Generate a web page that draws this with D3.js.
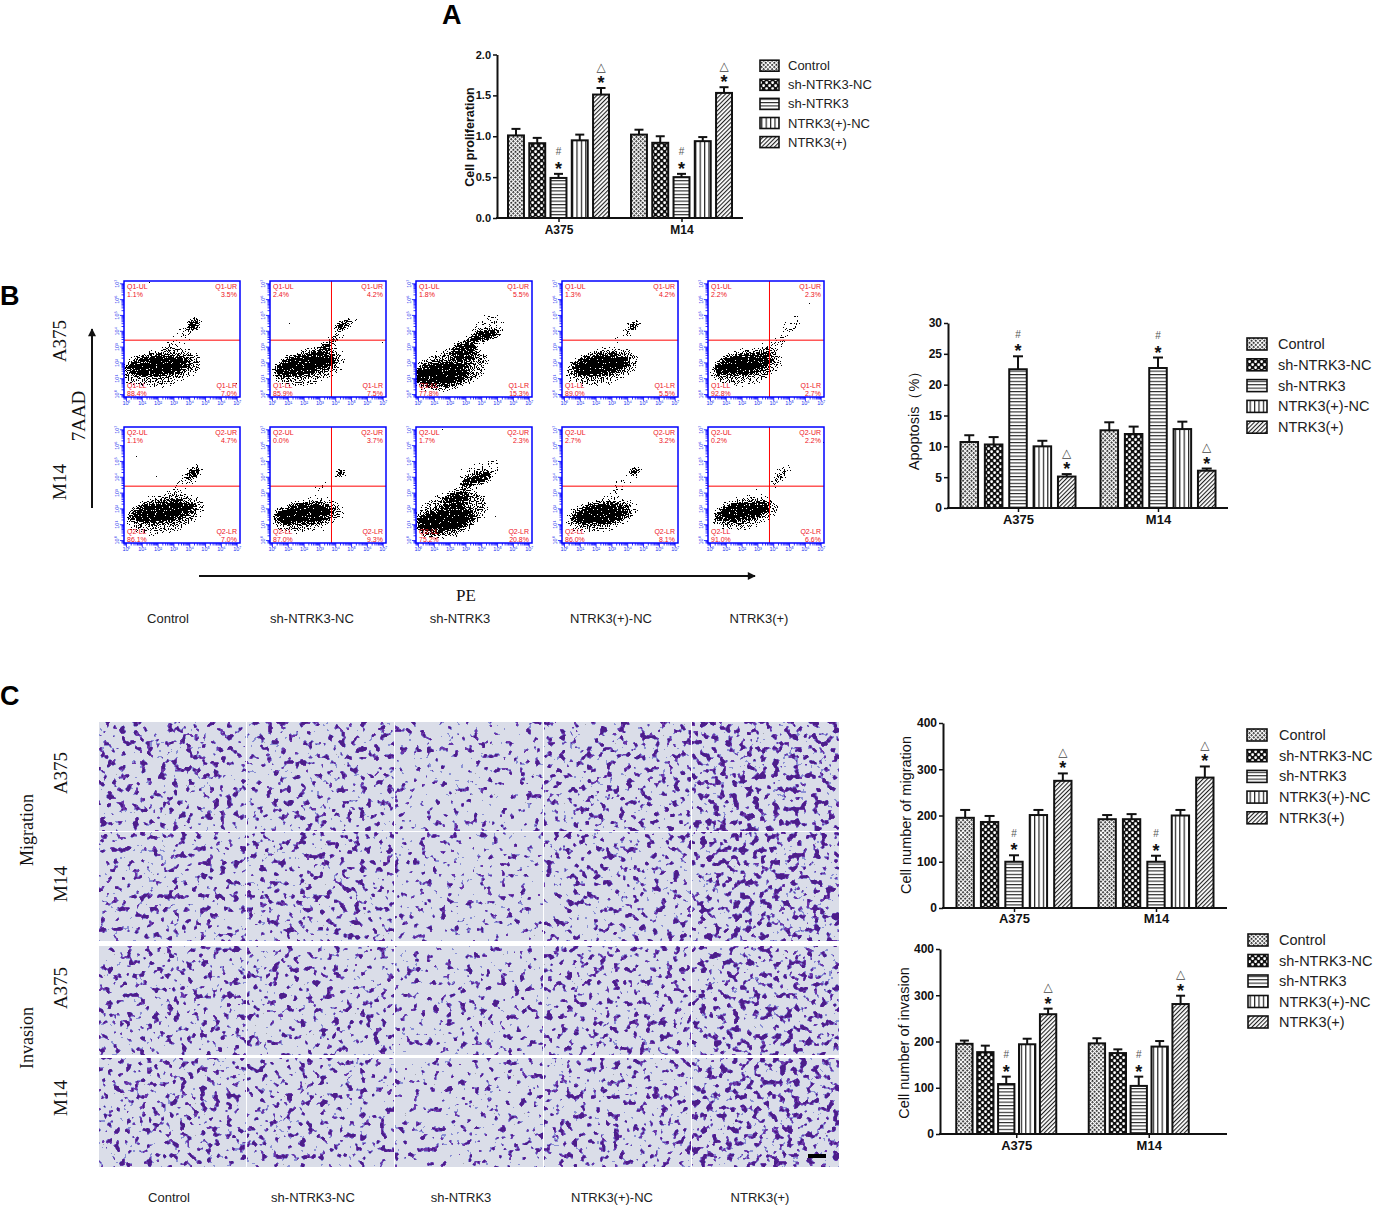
<!DOCTYPE html>
<html><head><meta charset="utf-8">
<script src="https://cdn.jsdelivr.net/npm/d3@7"></script>
<style>
body{margin:0;background:#fff}
svg{display:block}
text{font-family:"Liberation Sans",Arial,sans-serif}
.serif{font-family:"Liberation Serif","Times New Roman",serif}
</style>
</head><body>
<svg id="fig" width="1376" height="1207"></svg>
<script>
// ---------------- DATA ----------------
const groups = ["A375", "M14"];
const series = ["Control", "sh-NTRK3-NC", "sh-NTRK3", "NTRK3(+)-NC", "NTRK3(+)"];

const prolifMean = [[1.01, 0.915, 0.49, 0.95, 1.51], [1.02, 0.92, 0.50, 0.94, 1.53]];
const prolifErr  = [[1.09, 0.98, 0.54, 1.02, 1.59], [1.08, 1.00, 0.54, 0.99, 1.60]];
const prolifTicks = [0, 0.5, 1.0, 1.5, 2.0];

const apopMean = [[10.7, 10.3, 22.5, 10.0, 5.1], [12.6, 12.0, 22.7, 12.8, 6.05]];
const apopErr  = [[11.8, 11.5, 24.6, 10.9, 5.5], [13.9, 13.2, 24.4, 14.0, 6.4]];
const apopTicks = [0, 5, 10, 15, 20, 25, 30];

const migMean = [[195, 186, 100, 201, 275], [192, 192, 100, 200, 282]];
const migErr  = [[212, 199, 114, 212, 291], [201, 203, 113, 212, 306]];
const invMean = [[195, 177, 108, 194, 259], [196, 175, 104, 189, 281]];
const invErr  = [[202, 191, 124, 206, 271], [207, 183, 124, 201, 299]];
const countTicks = [0, 100, 200, 300, 400];

// significance marks above the starred bars (series index -> mark)
const secondMark = {2: "#", 4: "\u25B3"};

// flow cytometry quadrant labels [UL, UR, LL, LR] per row (A375, M14) and column
const flowQuadNames = [["Q1-UL", "Q1-UR", "Q1-LL", "Q1-LR"], ["Q2-UL", "Q2-UR", "Q2-LL", "Q2-LR"]];
const flowQuadPct = [
  [["1.1%", "3.5%", "88.4%", "7.0%"], ["2.4%", "4.2%", "85.9%", "7.5%"], ["1.8%", "5.5%", "77.8%", "15.3%"], ["1.3%", "4.2%", "89.0%", "5.5%"], ["2.2%", "2.3%", "92.8%", "2.7%"]],
  [["1.1%", "4.7%", "86.1%", "7.0%"], ["0.0%", "3.7%", "87.0%", "9.3%"], ["1.7%", "2.3%", "75.2%", "20.8%"], ["2.7%", "3.2%", "86.0%", "8.1%"], ["0.2%", "2.2%", "91.0%", "6.6%"]]
];
const flowGates = ["h", "hv", "none", "h", "hv"];
// population clouds: [cx, cy, rx, ry, rotation, density] (fractions of plot)
const flowClusters = [
  [[0.30,0.73,0.28,0.09,-5,1],[0.32,0.75,0.36,0.17,-10,0.55],[0.60,0.37,0.07,0.05,-40,0.9],[0.50,0.48,0.2,0.06,-35,0.4]],
  [[0.30,0.72,0.27,0.09,-10,1],[0.33,0.74,0.33,0.16,-15,0.55],[0.50,0.55,0.15,0.05,-40,0.7],[0.62,0.38,0.08,0.04,-35,0.9],[0.70,0.35,0.1,0.06,-40,0.35]],
  [[0.22,0.80,0.24,0.1,-5,1],[0.30,0.76,0.34,0.18,-15,0.6],[0.42,0.60,0.12,0.1,-30,0.85],[0.60,0.47,0.14,0.05,-10,0.95],[0.62,0.40,0.16,0.1,-30,0.4]],
  [[0.33,0.72,0.25,0.09,-8,1],[0.35,0.74,0.33,0.16,-12,0.55],[0.62,0.38,0.06,0.035,-35,0.9],[0.55,0.45,0.15,0.05,-40,0.4]],
  [[0.30,0.72,0.25,0.09,-8,1],[0.33,0.74,0.32,0.16,-12,0.55],[0.58,0.55,0.14,0.05,-35,0.5],[0.72,0.38,0.1,0.06,-50,0.45]],
  [[0.33,0.73,0.28,0.09,-8,1],[0.35,0.75,0.35,0.17,-12,0.55],[0.60,0.39,0.09,0.045,-35,0.9],[0.50,0.50,0.18,0.05,-35,0.4]],
  [[0.30,0.75,0.26,0.09,-5,1],[0.32,0.76,0.33,0.15,-10,0.5],[0.61,0.40,0.05,0.04,-30,1],[0.45,0.52,0.08,0.03,-30,0.5]],
  [[0.25,0.80,0.25,0.1,-10,1],[0.30,0.75,0.34,0.19,-20,0.6],[0.35,0.62,0.12,0.08,-30,0.8],[0.52,0.45,0.15,0.05,-20,0.95],[0.55,0.40,0.2,0.1,-25,0.4]],
  [[0.33,0.75,0.25,0.09,-8,1],[0.34,0.76,0.32,0.15,-12,0.5],[0.63,0.38,0.05,0.04,-35,1],[0.50,0.50,0.15,0.05,-40,0.4]],
  [[0.30,0.73,0.24,0.08,-10,1],[0.32,0.74,0.30,0.15,-12,0.5],[0.60,0.45,0.1,0.04,-45,0.6],[0.65,0.38,0.08,0.05,-45,0.4]]
];
const flowDecades = ["10\u2070","10\u00B9","10\u00B2","10\u00B3","10\u2074","10\u2075","10\u2076","10\u2077"];

// ---------------- SETUP ----------------
const svg = d3.select("#fig");
const defs = svg.append("defs");

function pattern(id, w, h, transform) {
  const p = defs.append("pattern").attr("id", id).attr("patternUnits", "userSpaceOnUse")
    .attr("width", w).attr("height", h);
  if (transform) p.attr("patternTransform", transform);
  return p;
}
{ // Control: fine mesh
  const p = pattern("p0", 3, 3, "rotate(45)");
  p.append("rect").attr("width", 3).attr("height", 3).attr("fill", "#fff");
  p.append("rect").attr("width", 1.8).attr("height", 1.8).attr("fill", "#222");
}
{ // sh-NC: big checker
  const p = pattern("p1", 6, 6);
  p.append("rect").attr("width", 6).attr("height", 6).attr("fill", "#111");
  p.append("rect").attr("x", 0.3).attr("y", 0.3).attr("width", 2.6).attr("height", 2.6).attr("rx", 0.8).attr("fill", "#fff");
  p.append("rect").attr("x", 3.3).attr("y", 3.3).attr("width", 2.6).attr("height", 2.6).attr("rx", 0.8).attr("fill", "#fff");
}
{ // sh-NTRK3: horizontal lines
  const p = pattern("p2", 4, 3.4);
  p.append("rect").attr("width", 4).attr("height", 3.4).attr("fill", "#fff");
  p.append("rect").attr("y", 0).attr("width", 4).attr("height", 1.1).attr("fill", "#222");
}
{ // NTRK3(+)-NC: vertical lines
  const p = pattern("p3", 4.4, 4);
  p.append("rect").attr("width", 4.4).attr("height", 4).attr("fill", "#fff");
  p.append("rect").attr("x", 0).attr("width", 1.2).attr("height", 4).attr("fill", "#222");
}
{ // NTRK3(+): diagonal lines
  const p = pattern("p4", 3, 3, "rotate(45)");
  p.append("rect").attr("width", 3).attr("height", 3).attr("fill", "#fff");
  p.append("rect").attr("x", 0).attr("width", 1.1).attr("height", 3).attr("fill", "#222");
}

// ---------------- BAR CHARTS ----------------
function barChart(cfg) {
  const g = svg.append("g");
  const y = d3.scaleLinear().domain([0, cfg.max]).range([cfg.yBottom, cfg.yTop]);
  const gx = d3.scalePoint().domain(groups).range(cfg.groupRange).padding(0.5);
  const sx = d3.scaleBand().domain(series).range([-cfg.half, cfg.half]).paddingInner(cfg.padInner);
  const w = sx.bandwidth();

  groups.forEach((grp, gi) => {
    series.forEach((s, si) => {
      const x = gx(grp) + sx(s);
      const v = cfg.mean[gi][si], e = cfg.err[gi][si];
      const cx = x + w / 2;
      g.append("line").attr("x1", cx).attr("x2", cx).attr("y1", y(v)).attr("y2", y(e))
        .attr("stroke", "#111").attr("stroke-width", 2);
      g.append("line").attr("x1", cx - cfg.cap).attr("x2", cx + cfg.cap).attr("y1", y(e)).attr("y2", y(e))
        .attr("stroke", "#111").attr("stroke-width", 2);
      g.append("rect").attr("x", x).attr("y", y(v)).attr("width", w).attr("height", y(0) - y(v))
        .attr("fill", `url(#p${si})`).attr("stroke", "#111").attr("stroke-width", 2);
      if (secondMark[si]) {
        const top = y(e);
        g.append("text").attr("x", cx).attr("y", top - 9 + 10).attr("text-anchor", "middle")
          .attr("font-size", 18).attr("font-weight", "bold").attr("fill", "#111").text("*");
        const m = secondMark[si];
        if (m === "#") {
          g.append("text").attr("x", cx).attr("y", top - 22 + 3.5).attr("text-anchor", "middle")
            .attr("font-size", 10).attr("fill", "#555").text("#");
        } else {
          g.append("text").attr("x", cx).attr("y", top - 22 + 4.5).attr("text-anchor", "middle")
            .attr("font-size", 12).attr("fill", "#444").style("font-family", "DejaVu Sans").text(m);
        }
      }
    });
  });

  // y axis
  const ya = g.append("g").attr("transform", `translate(${cfg.x0},0)`)
    .call(d3.axisLeft(y).tickValues(cfg.ticks).tickFormat(cfg.fmt).tickSize(4).tickSizeOuter(0).tickPadding(2));
  ya.select(".domain").attr("stroke", "#111").attr("stroke-width", 2);
  ya.selectAll(".tick line").attr("stroke", "#111").attr("stroke-width", 1.5);
  ya.selectAll(".tick text").attr("font-size", cfg.tickFont).attr("font-weight", "bold").attr("fill", "#111")
    .style("font-family", '"Liberation Sans",Arial,sans-serif');

  // x axis
  g.append("line").attr("x1", cfg.x0 - 1).attr("x2", cfg.x1).attr("y1", cfg.yBottom).attr("y2", cfg.yBottom)
    .attr("stroke", "#111").attr("stroke-width", 2);
  const xa = g.append("g").attr("transform", `translate(${cfg.labelShift || 0},${cfg.yBottom})`)
    .call(d3.axisBottom(gx).tickSize(4).tickPadding(cfg.xPad));
  xa.select(".domain").remove();
  xa.selectAll(".tick line").attr("stroke", "#111").attr("stroke-width", 1.5);
  xa.selectAll(".tick text").attr("font-size", cfg.xFont).attr("font-weight", "bold").attr("fill", "#111")
    .style("font-family", '"Liberation Sans",Arial,sans-serif');

  // y label
  g.append("text").attr("transform", `translate(${cfg.ylx},${cfg.yly}) rotate(-90)`)
    .attr("text-anchor", "middle").attr("dominant-baseline", "central")
    .attr("font-size", cfg.ylFont).attr("font-weight", cfg.ylBold ? "bold" : "normal").attr("fill", "#111")
    .text(cfg.yLabel);

  // legend
  series.forEach((s, si) => {
    const cy = cfg.legY + si * cfg.legDy;
    g.append("rect").attr("x", cfg.legX).attr("y", cy - cfg.legH / 2).attr("width", cfg.legW).attr("height", cfg.legH)
      .attr("fill", `url(#p${si})`).attr("stroke", "#111").attr("stroke-width", 1.6);
    g.append("text").attr("x", cfg.legX + cfg.legW + cfg.legGap).attr("y", cy).attr("dominant-baseline", "central")
      .attr("font-size", cfg.legFont).attr("fill", "#222").text(s);
  });
}

barChart({ max: 2, ticks: prolifTicks, fmt: d3.format(".1f"), mean: prolifMean, err: prolifErr,
  x0: 497, x1: 743, yBottom: 218, yTop: 54.5, groupRange: [497, 743], half: 50.5, padInner: 0.25, cap: 4.5,
  tickFont: 11, xFont: 12, xPad: 3, ylx: 470, yly: 137, ylFont: 12.5, ylBold: true, yLabel: "Cell proliferation",
  legX: 760, legY: 65.7, legDy: 19.1, legW: 19, legH: 11, legGap: 9, legFont: 13 });

barChart({ max: 30, ticks: apopTicks, fmt: d3.format("d"), mean: apopMean, err: apopErr,
  x0: 948, x1: 1228, yBottom: 508, yTop: 323, groupRange: [948, 1228], half: 57.5, padInner: 0.28, cap: 5,
  tickFont: 12, xFont: 13, xPad: 3, ylx: 914, yly: 417, ylFont: 14.5, ylBold: false, yLabel: "Apoptosis\uFF08%\uFF09",
  legX: 1247, legY: 344, legDy: 20.8, legW: 20, legH: 12, legGap: 11, legFont: 14.5 });

barChart({ max: 400, ticks: countTicks, fmt: d3.format("d"), mean: migMean, err: migErr,
  x0: 943, x1: 1227, yBottom: 908, yTop: 723, groupRange: [943, 1227], half: 57.5, padInner: 0.29, cap: 5,
  tickFont: 12, xFont: 13, xPad: 2, ylx: 906, yly: 815, ylFont: 14.5, ylBold: false, yLabel: "Cell number of migration",
  legX: 1247, legY: 735, legDy: 20.7, legW: 20, legH: 12, legGap: 12, legFont: 14.5 });

barChart({ max: 400, ticks: countTicks, fmt: d3.format("d"), mean: invMean, err: invErr,
  x0: 940, x1: 1227, yBottom: 1134, yTop: 949, groupRange: [940, 1205], half: 50, padInner: 0.22, cap: 4.5,
  labelShift: 10, tickFont: 12, xFont: 13, xPad: 3, ylx: 904, yly: 1043, ylFont: 14.5, ylBold: false, yLabel: "Cell number of invasion",
  legX: 1248, legY: 940, legDy: 20.5, legW: 20, legH: 12, legGap: 11, legFont: 14.5 });

// ---------------- FLOW CYTOMETRY ----------------
const flowX = d3.scalePoint().domain(series).range([124, 708]);
const flowY = d3.scalePoint().domain(groups).range([281, 427]);
const FS = 116;

series.forEach((s, ci) => {
  groups.forEach((grp, ri) => {
    const left = flowX(s), top = flowY(grp), idx = ri * 5 + ci;
    const g = svg.append("g");
    const fid = "flow" + idx, cid = "clip" + idx;
    const f = defs.append("filter").attr("id", fid).attr("filterUnits", "userSpaceOnUse")
      .attr("x", left).attr("y", top).attr("width", FS).attr("height", FS)
      .attr("color-interpolation-filters", "sRGB");
    f.append("feGaussianBlur").attr("in", "SourceAlpha").attr("stdDeviation", 2.5).attr("result", "d");
    f.append("feTurbulence").attr("type", "fractalNoise").attr("baseFrequency", 0.85).attr("numOctaves", 1)
      .attr("seed", 11 + idx * 7).attr("result", "t");
    f.append("feColorMatrix").attr("in", "t").attr("type", "matrix")
      .attr("values", "0 0 0 0 0  0 0 0 0 0  0 0 0 0 0  1 0 0 0 0").attr("result", "tn");
    f.append("feComposite").attr("in", "d").attr("in2", "tn").attr("operator", "arithmetic")
      .attr("k1", 0).attr("k2", 1).attr("k3", -2).attr("k4", 0.85).attr("result", "s");
    f.append("feComponentTransfer").attr("in", "s").attr("result", "m")
      .append("feFuncA").attr("type", "discrete").attr("tableValues", "0 1");
    f.append("feFlood").attr("flood-color", "#000").attr("result", "blk");
    f.append("feComposite").attr("in", "blk").attr("in2", "m").attr("operator", "in");
    defs.append("clipPath").attr("id", cid).append("rect").attr("x", left).attr("y", top).attr("width", FS).attr("height", FS);

    g.append("rect").attr("x", left).attr("y", top).attr("width", FS).attr("height", FS).attr("fill", "#fff");
    const cg = g.append("g").attr("clip-path", `url(#${cid})`).append("g").attr("filter", `url(#${fid})`);
    cg.append("rect").attr("x", left).attr("y", top).attr("width", FS).attr("height", FS).attr("fill", "#000").attr("fill-opacity", 0.001);
    flowClusters[idx].forEach(c => {
      cg.append("ellipse").attr("cx", left + c[0] * FS).attr("cy", top + c[1] * FS)
        .attr("rx", c[2] * FS).attr("ry", c[3] * FS)
        .attr("transform", `rotate(${c[4]},${left + c[0] * FS},${top + c[1] * FS})`)
        .attr("fill", "#000").attr("fill-opacity", c[5]);
    });

    // gates
    const gate = flowGates[ci];
    if (gate !== "none") {
      g.append("line").attr("x1", left).attr("x2", left + FS).attr("y1", top + 0.51 * FS).attr("y2", top + 0.51 * FS)
        .attr("stroke", "#ff0000").attr("stroke-width", 1);
    }
    if (gate === "hv") {
      g.append("line").attr("x1", left + 0.53 * FS).attr("x2", left + 0.53 * FS).attr("y1", top).attr("y2", top + FS)
        .attr("stroke", "#ff0000").attr("stroke-width", 1);
    }
    // frame
    g.append("rect").attr("x", left).attr("y", top).attr("width", FS).attr("height", FS)
      .attr("fill", "none").attr("stroke", "#0000ff").attr("stroke-width", 1.5);
    // log axes
    const ly = d3.scaleLog().domain([0.7, 1.5e7]).range([top + FS, top]);
    const lx = d3.scaleLog().domain([0.7, 1.5e7]).range([left, left + FS]);
    const ticks = ly.ticks();
    ticks.forEach(t => {
      const major = Math.abs(Math.log10(t) - Math.round(Math.log10(t))) < 1e-9;
      g.append("line").attr("x1", left - (major ? 4 : 2.5)).attr("x2", left).attr("y1", ly(t)).attr("y2", ly(t))
        .attr("stroke", "#0000ff").attr("stroke-width", 0.8);
      g.append("line").attr("y1", top + FS).attr("y2", top + FS + (major ? 4 : 2.5)).attr("x1", lx(t)).attr("x2", lx(t))
        .attr("stroke", "#0000ff").attr("stroke-width", 0.8);
    });
    flowDecades.forEach((lab, k) => {
      g.append("text").attr("x", left - 7).attr("y", ly(Math.pow(10, k))).attr("dominant-baseline", "central")
        .attr("text-anchor", "middle").attr("font-size", 5.5).attr("fill", "#2233ee")
        .attr("transform", `rotate(-90,${left - 7},${ly(Math.pow(10, k))})`).text(lab);
      g.append("text").attr("x", lx(Math.pow(10, k))).attr("y", top + FS + 8).attr("text-anchor", "middle")
        .attr("font-size", 5.5).attr("fill", "#2233ee").text(lab);
    });
    // quadrant labels
    const qn = flowQuadNames[ri], qp = flowQuadPct[ri][ci];
    const red = "#ee1122", qf = 7;
    const put = (x, y, anchor, txt) => g.append("text").attr("x", x).attr("y", y).attr("text-anchor", anchor)
      .attr("font-size", qf).attr("fill", red).text(txt);
    put(left + 3, top + 7.5, "start", qn[0]); put(left + 3, top + 15.5, "start", qp[0]);
    put(left + FS - 3, top + 7.5, "end", qn[1]); put(left + FS - 3, top + 15.5, "end", qp[1]);
    put(left + 3, top + FS - 9, "start", qn[2]); put(left + 3, top + FS - 1.5, "start", qp[2]);
    put(left + FS - 3, top + FS - 9, "end", qn[3]); put(left + FS - 3, top + FS - 1.5, "end", qp[3]);
  });
});

// arrows & labels for panel B
defs.append("marker").attr("id", "arrowHead").attr("viewBox", "0 0 10 10").attr("refX", 9).attr("refY", 5)
  .attr("markerWidth", 5).attr("markerHeight", 4).attr("orient", "auto-start-reverse").attr("markerUnits", "strokeWidth")
  .append("path").attr("d", "M0,0 L10,5 L0,10 z").attr("fill", "#111");
svg.append("line").attr("x1", 92).attr("x2", 92).attr("y1", 508).attr("y2", 329)
  .attr("stroke", "#111").attr("stroke-width", 2).attr("marker-end", "url(#arrowHead)");
svg.append("line").attr("x1", 199).attr("x2", 755).attr("y1", 576).attr("y2", 576)
  .attr("stroke", "#111").attr("stroke-width", 2).attr("marker-end", "url(#arrowHead)");
function rotLabel(x, y, txt, size) {
  svg.append("text").attr("class", "serif").attr("transform", `translate(${x},${y}) rotate(-90)`)
    .attr("text-anchor", "middle").attr("dominant-baseline", "central").attr("font-size", size).attr("fill", "#111").text(txt);
}
rotLabel(59, 341, "A375", 19);
rotLabel(59, 482, "M14", 19);
rotLabel(78, 416, "7AAD", 19);
svg.append("text").attr("class", "serif").attr("x", 466).attr("y", 601).attr("text-anchor", "middle")
  .attr("font-size", 17).attr("fill", "#111").text("PE");
const colLabelX = [168, 312, 460, 611, 759];
series.forEach((s, i) => {
  svg.append("text").attr("x", colLabelX[i]).attr("y", 623).attr("text-anchor", "middle")
    .attr("font-size", 13).attr("fill", "#222").text(s);
  svg.append("text").attr("x", colLabelX[i] + 1).attr("y", 1202).attr("text-anchor", "middle")
    .attr("font-size", 13).attr("fill", "#222").text(s);
});

// ---------------- TRANSWELL IMAGES ----------------
const micCols = d3.scaleBand().domain(series).range([99, 839]).paddingInner(0.0136);
const micRows = [
  { top: 722, g: 0, vals: migMean },
  { top: 832, g: 1, vals: migMean },
  { top: 946, g: 0, vals: invMean },
  { top: 1058, g: 1, vals: invMean }
];
const MH = 109;
micRows.forEach((r, ri) => {
  series.forEach((s, ci) => {
    const x = micCols(s), w = micCols.bandwidth();
    const v = r.vals[r.g][ci];
    const t = 0.665 - (v - 100) * 0.0004;
    const id = `mic${ri}_${ci}`;
    const f = defs.append("filter").attr("id", id).attr("x", 0).attr("y", 0).attr("width", 1).attr("height", 1)
      .attr("color-interpolation-filters", "sRGB");
    f.append("feFlood").attr("flood-color", "#dadde8").attr("result", "bg");
    f.append("feTurbulence").attr("type", "fractalNoise").attr("baseFrequency", 0.15).attr("numOctaves", 2)
      .attr("seed", 3 + ri * 17 + ci * 5).attr("result", "n");
    const layers = [[t - 0.035, "#8a90d4", "halo"], [t, "#6c37aa", "core"], [t + 0.055, "#4c1e8a", "nuc"]];
    layers.forEach(([th, col, nm]) => {
      const K = 8, B = 0.5 - K * th;
      f.append("feColorMatrix").attr("in", "n").attr("type", "matrix")
        .attr("values", `0 0 0 0 0  0 0 0 0 0  0 0 0 0 0  ${K} 0 0 0 ${B}`).attr("result", nm + "m");
      f.append("feComponentTransfer").attr("in", nm + "m").attr("result", nm + "t")
        .append("feFuncA").attr("type", "discrete").attr("tableValues", "0 1");
      f.append("feFlood").attr("flood-color", col).attr("result", nm + "c");
      f.append("feComposite").attr("in", nm + "c").attr("in2", nm + "t").attr("operator", "in").attr("result", nm);
    });
    f.append("feTurbulence").attr("type", "fractalNoise").attr("baseFrequency", 0.9).attr("numOctaves", 1)
      .attr("seed", 101 + ri * 13 + ci).attr("result", "n2");
    f.append("feColorMatrix").attr("in", "n2").attr("type", "matrix")
      .attr("values", `0 0 0 0 0  0 0 0 0 0  0 0 0 0 0  10 0 0 0 ${0.5 - 10 * 0.8}`).attr("result", "spm");
    f.append("feComponentTransfer").attr("in", "spm").attr("result", "spt")
      .append("feFuncA").attr("type", "discrete").attr("tableValues", "0 1");
    f.append("feFlood").attr("flood-color", "#a2a4b0").attr("result", "spc");
    f.append("feComposite").attr("in", "spc").attr("in2", "spt").attr("operator", "in").attr("result", "sp");
    const mg = f.append("feMerge");
    ["bg", "sp", "halo", "core", "nuc"].forEach(k => mg.append("feMergeNode").attr("in", k));
    svg.append("rect").attr("x", x).attr("y", r.top).attr("width", w).attr("height", MH)
      .attr("fill", "#dadde8").attr("filter", `url(#${id})`);
  });
});
// scale bar
svg.append("rect").attr("x", 808).attr("y", 1154).attr("width", 18).attr("height", 4).attr("fill", "#000");

rotLabel(27, 830, "Migration", 18);
rotLabel(27, 1038, "Invasion", 18);
rotLabel(60, 773, "A375", 19);
rotLabel(60, 884, "M14", 19);
rotLabel(60, 988, "A375", 19);
rotLabel(60, 1098, "M14", 19);

// panel letters
svg.append("text").attr("x", 442).attr("y", 24).attr("font-size", 27).attr("font-weight", "bold").text("A");
svg.append("text").attr("x", 0).attr("y", 305).attr("font-size", 27).attr("font-weight", "bold").text("B");
svg.append("text").attr("x", 0).attr("y", 705).attr("font-size", 27).attr("font-weight", "bold").text("C");
</script>
</body></html>
